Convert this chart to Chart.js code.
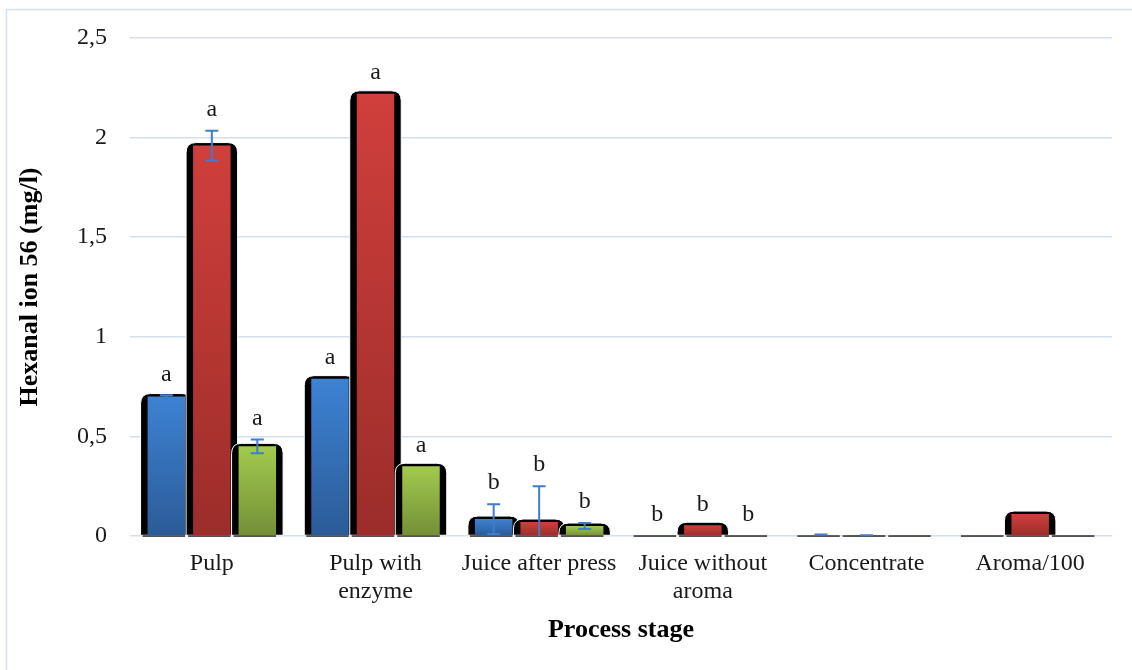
<!DOCTYPE html>
<html>
<head>
<meta charset="utf-8">
<script src="https://cdn.jsdelivr.net/npm/chart.js@4.4.1/dist/chart.umd.min.js"></script>
<style>
  html, body { margin: 0; padding: 0; background: #ffffff; }
  #wrap { width: 1132px; height: 670px; position: relative; }
</style>
</head>
<body>
<div id="wrap"><canvas id="c" width="1132" height="670"></canvas></div>
<script>
// Process stages along the x axis
const categories = ['Pulp', ['Pulp with', 'enzyme'], 'Juice after press', ['Juice without', 'aroma'], 'Concentrate', 'Aroma/100'];

// Hexanal (ion 56), mg/l, three series per stage
const seriesBlue  = [0.70, 0.79, 0.085, 0.003, 0.004, 0.003];
const seriesRed   = [1.96, 2.22, 0.070, 0.054, 0.002, 0.110];
const seriesGreen = [0.45, 0.35, 0.050, 0.003, 0.001, 0.003];

// Standard deviations
const errBlue  = [0.006, 0, 0.075, 0, 0.004, 0];
const errRed   = [0.075, 0, 0.180, 0, 0.002, 0];
const errGreen = [0.035, 0, 0.015, 0, 0.000, 0];

// Significance letters
const lettersBlue  = ['a', 'a', 'b', 'b', '', ''];
const lettersRed   = ['a', 'a', 'b', 'b', '', ''];
const lettersGreen = ['a', 'a', 'b', 'b', '', ''];

// Y tick labels (decimal comma)
const yTickLabels = ['0', '0,5', '1', '1,5', '2', '2,5'];

const SERIF = '"Liberation Serif", "Times New Roman", serif';

function gradientFill(top, bottom) {
  return function (ctx) {
    const chart = ctx.chart;
    if (ctx.type !== 'data' || !chart.chartArea || !chart.scales.y) return top;
    const ys = chart.scales.y;
    const yTop = ys.getPixelForValue(ctx.raw);
    const yBase = ys.getPixelForValue(0);
    if (yBase - yTop < 1) return top;
    const g = chart.ctx.createLinearGradient(0, yTop, 0, yBase);
    g.addColorStop(0, top);
    g.addColorStop(1, bottom);
    return g;
  };
}

// Frame around the figure
const framePlugin = {
  id: 'frame',
  beforeDraw(chart) {
    const c = chart.ctx;
    c.save();
    c.strokeStyle = '#d6e1ef';
    c.lineWidth = 1.5;
    c.strokeRect(6.5, 9.5, 1200, 800);
    c.restore();
  }
};

// Dark rounded backing behind every bar (gives the bevelled column look)
const backingPlugin = {
  id: 'backing',
  beforeDatasetsDraw(chart) {
    const c = chart.ctx;
    c.save();
    chart.data.datasets.forEach((ds, di) => {
      const meta = chart.getDatasetMeta(di);
      meta.data.forEach((el) => {
        const p = el.getProps(['x', 'y', 'base', 'width'], true);
        const h0 = p.base - p.y;
        if (h0 <= 0.2) return;
        const ext = Math.min(3, h0);
        const left = p.x - p.width / 2 - 7;
        const right = p.x + p.width / 2 + 7;
        const top = p.y - ext;
        const h = p.base - top;
        const r = Math.min(10, h, (right - left) / 2);
        c.beginPath();
        c.moveTo(left, p.base);
        c.lineTo(left, top + r);
        c.quadraticCurveTo(left, top, left + r, top);
        c.lineTo(right - r, top);
        c.quadraticCurveTo(right, top, right, top + r);
        c.lineTo(right, p.base);
        c.closePath();
        c.fillStyle = '#000000';
        c.fill();
        c.strokeStyle = '#ffffff';
        c.lineWidth = 1;
        c.stroke();
      });
    });
    c.restore();
  },
  afterDatasetsDraw(chart) {
    const c = chart.ctx;
    c.save();
    c.fillStyle = '#3a3a3a';
    chart.data.datasets.forEach((ds, di) => {
      const meta = chart.getDatasetMeta(di);
      meta.data.forEach((el) => {
        const p = el.getProps(['x', 'base', 'width'], true);
        c.fillRect(p.x - p.width / 2 - 5, p.base, p.width + 5, 1.6);
      });
    });
    c.restore();
  }
};

// Error bars and letters
const annotatePlugin = {
  id: 'annotate',
  afterDatasetsDraw(chart) {
    const c = chart.ctx;
    const ys = chart.scales.y;
    c.save();
    chart.data.datasets.forEach((ds, di) => {
      const meta = chart.getDatasetMeta(di);
      meta.data.forEach((el, i) => {
        const v = ds.data[i];
        const e = ds.errors[i];
        const x = el.getProps(['x'], true).x;
        if (e > 0) {
          const yHi = ys.getPixelForValue(v + e);
          const yLo = ys.getPixelForValue(Math.max(0, v - e));
          c.strokeStyle = '#3f7dcc';
          c.lineWidth = 2;
          c.beginPath();
          c.moveTo(x, yHi); c.lineTo(x, yLo);
          c.moveTo(x - 6.5, yHi); c.lineTo(x + 6.5, yHi);
          if (v - e > 0) { c.moveTo(x - 6.5, yLo); c.lineTo(x + 6.5, yLo); }
          c.stroke();
        }
        const letter = ds.letters[i];
        if (letter) {
          const yTop = ys.getPixelForValue(v + e);
          c.fillStyle = '#1a1a1a';
          c.font = '24px ' + SERIF;
          c.textAlign = 'center';
          c.textBaseline = 'middle';
          c.fillText(letter, x, yTop - 21);
        }
      });
    });
    c.restore();
  }
};

new Chart(document.getElementById('c'), {
  type: 'bar',
  data: {
    labels: categories,
    datasets: [
      { data: seriesBlue,  errors: errBlue,  letters: lettersBlue,  backgroundColor: gradientFill('#3d82d3', '#2b5b97') },
      { data: seriesRed,   errors: errRed,   letters: lettersRed,   backgroundColor: gradientFill('#d03f3c', '#9b2d2a') },
      { data: seriesGreen, errors: errGreen, letters: lettersGreen, backgroundColor: gradientFill('#a2ca4e', '#738f37') }
    ]
  },
  options: {
    responsive: false,
    animation: false,
    devicePixelRatio: 1,
    layout: { padding: { top: 38, right: 20, left: 0, bottom: 0 } },
    datasets: { bar: { categoryPercentage: 0.834, barPercentage: 0.824, borderWidth: 0 } },
    plugins: { legend: { display: false }, tooltip: { enabled: false } },
    scales: {
      x: {
        grid: { display: false, drawTicks: false },
        border: { display: false },
        ticks: { color: '#1a1a1a', font: { family: SERIF, size: 24, lineHeight: 1.15 }, padding: 14, maxRotation: 0, autoSkip: false },
        title: { display: true, text: 'Process stage', color: '#000', font: { family: SERIF, size: 26, weight: 'bold', lineHeight: 1.2 }, padding: { top: 0, bottom: 24 } },
        afterFit(scale) { scale.height = 134; }
      },
      y: {
        min: 0, max: 2.5,
        grid: { color: '#d4e0ee', lineWidth: 1.5, drawTicks: false },
        border: { display: false },
        ticks: {
          stepSize: 0.5, padding: 23, color: '#1a1a1a',
          font: { family: SERIF, size: 24 },
          callback: (value, index) => yTickLabels[index]
        },
        title: { display: true, text: 'Hexanal ion 56 (mg/l)', color: '#000', font: { family: SERIF, size: 26, weight: 'bold', lineHeight: 1.2 }, padding: { top: 15, bottom: 0 } },
        afterFit(scale) { scale.width = 130; }
      }
    }
  },
  plugins: [framePlugin, backingPlugin, annotatePlugin]
});
</script>
</body>
</html>
